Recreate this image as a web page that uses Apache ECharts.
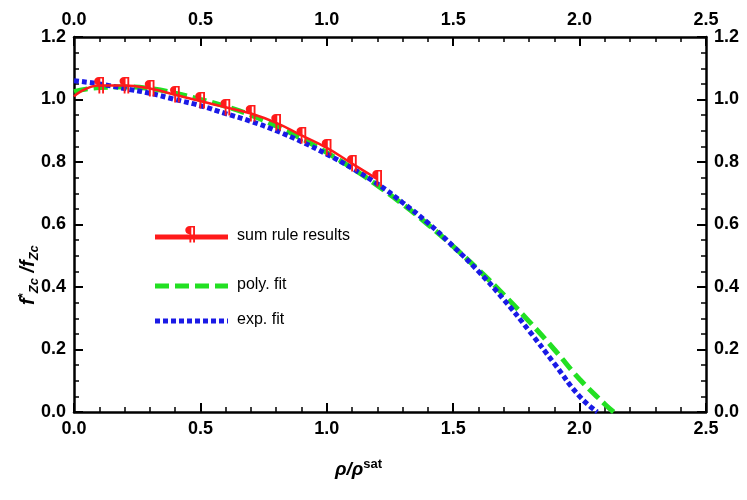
<!DOCTYPE html>
<html><head><meta charset="utf-8">
<script src="https://cdn.jsdelivr.net/npm/echarts@6/dist/echarts.min.js"></script>
<style>body{margin:0;background:#fff}#c{width:747px;height:500px}</style>
</head><body><div id="c"></div>
<script>
// sum rule results
const sumX = [0.0, 0.1, 0.2, 0.3, 0.4, 0.5, 0.6, 0.7, 0.8, 0.9, 1.0, 1.1, 1.2];
const sumY = [1.01, 1.045, 1.045, 1.035, 1.015, 0.995, 0.975, 0.955, 0.925, 0.885, 0.845, 0.795, 0.745];
// poly. fit
const polyX = [0, 0.1, 0.2, 0.3, 0.4, 0.5, 0.6, 0.7, 0.8, 0.9, 1.0, 1.1, 1.2, 1.3, 1.4, 1.5, 1.6, 1.7, 1.8, 1.9, 2.0, 2.1, 2.135];
const polyY = [1.025, 1.038, 1.04, 1.035, 1.02, 1.0, 0.978, 0.95, 0.915, 0.875, 0.83, 0.78, 0.725, 0.665, 0.6, 0.53, 0.455, 0.375, 0.29, 0.2, 0.105, 0.025, 0];
// exp. fit
const expX = [0, 0.1, 0.2, 0.3, 0.4, 0.5, 0.6, 0.7, 0.8, 0.9, 1.0, 1.1, 1.2, 1.3, 1.4, 1.5, 1.6, 1.7, 1.8, 1.9, 2.0, 2.07];
const expY = [1.06, 1.05, 1.035, 1.02, 1.0, 0.98, 0.955, 0.93, 0.9, 0.865, 0.825, 0.78, 0.73, 0.67, 0.605, 0.53, 0.45, 0.36, 0.26, 0.155, 0.05, 0];

const zip = (a, b) => a.map((v, i) => [v, b[i]]);
const font = 'Liberation Sans, Arial, sans-serif';
const lbl = {fontSize: 18, fontWeight: 'bold', color: '#000', fontFamily: font};

function xAx(pos) {
  return {type: 'value', min: 0, max: 2.5, interval: 0.5, position: pos,
    axisLine: {onZero: false, lineStyle: {color: '#000', width: 2.5}},
    axisTick: {inside: true, length: 9, lineStyle: {color: '#000', width: 2}},
    minorTick: {show: true, splitNumber: 5, length: 5, lineStyle: {color: '#000', width: 1.5}},
    axisLabel: Object.assign({formatter: v => v.toFixed(1), margin: 8}, lbl),
    splitLine: {show: false}};
}
function yAx(pos) {
  return {type: 'value', min: 0, max: 1.2, interval: 0.2, position: pos,
    axisLine: {onZero: false, lineStyle: {color: '#000', width: 2.5}},
    axisTick: {inside: true, length: 9, lineStyle: {color: '#000', width: 2}},
    minorTick: {show: true, splitNumber: 4, length: 5, lineStyle: {color: '#000', width: 1.5}},
    axisLabel: Object.assign({formatter: v => v.toFixed(1), margin: 8}, lbl),
    splitLine: {show: false}};
}

const chart = echarts.init(document.getElementById('c'));
chart.setOption({
  animation: false,
  grid: {left: 74, right: 41, top: 37, bottom: 88},
  xAxis: [xAx('bottom'), xAx('top')],
  yAxis: [yAx('left'), yAx('right')],
  series: [
    {name: 'poly. fit', type: 'line', data: zip(polyX, polyY), showSymbol: false, smooth: true,
      lineStyle: {color: '#22e022', width: 5, type: [14, 6]}},
    {name: 'exp. fit', type: 'line', data: zip(expX, expY), showSymbol: false, smooth: true,
      lineStyle: {color: '#1a1ae6', width: 5, type: [5, 3]}},
    {name: 'sum rule results', type: 'line', data: zip(sumX, sumY), smooth: true,
      showSymbol: true, symbol: 'circle', symbolSize: 1, itemStyle: {color: 'rgba(0,0,0,0)'},
      lineStyle: {color: '#ff1a1a', width: 2.5}, z: 5,
      label: {show: true, position: 'inside', formatter: p => p.dataIndex === 0 ? '' : '¶',
        color: '#ff1a1a', fontSize: 20, fontWeight: 'bold', fontFamily: 'DejaVu Sans'}}
  ],
  graphic: [
    {type: 'line', shape: {x1: 155, y1: 237, x2: 228, y2: 237}, style: {stroke: '#ff1a1a', lineWidth: 5}},
    {type: 'text', x: 184, y: 225, style: {text: '¶', fill: '#ff1a1a', font: 'bold 20px DejaVu Sans'}},
    {type: 'line', shape: {x1: 155, y1: 286, x2: 228, y2: 286}, style: {stroke: '#22e022', lineWidth: 5, lineDash: [14, 6]}},
    {type: 'line', shape: {x1: 155, y1: 321, x2: 228, y2: 321}, style: {stroke: '#1a1ae6', lineWidth: 5, lineDash: [5, 3]}},
    {type: 'text', x: 237, y: 228, style: {text: 'sum rule results', fill: '#000', font: '16px ' + font}},
    {type: 'text', x: 237, y: 277, style: {text: 'poly. fit', fill: '#000', font: '16px ' + font}},
    {type: 'text', x: 237, y: 312, style: {text: 'exp. fit', fill: '#000', font: '16px ' + font}},
    {type: 'text', x: 335, y: 458, style: {
      rich: {a: {fontSize: 19, fontWeight: 'bold', fontStyle: 'italic', fontFamily: font},
             s: {fontSize: 13, fontWeight: 'bold', fontFamily: font, verticalAlign: 'top', padding: [0, 0, 10, 0]}},
      text: '{a|ρ/ρ}{s|sat}'}},
    {type: 'text', x: 16, y: 305, rotation: Math.PI / 2, style: {
      rich: {a: {fontSize: 20, fontWeight: 'bold', fontStyle: 'italic', fontFamily: font},
             s: {fontSize: 13, fontWeight: 'bold', fontStyle: 'italic', fontFamily: font, padding: [12, 0, 0, 0]},
             t: {fontSize: 13, fontWeight: 'bold', fontFamily: font, padding: [0, 0, 10, 0]}},
      text: '{a|f}{t|*}{s|Zc}{a| /f}{s|Zc}'}}
  ]
});
</script></body></html>
